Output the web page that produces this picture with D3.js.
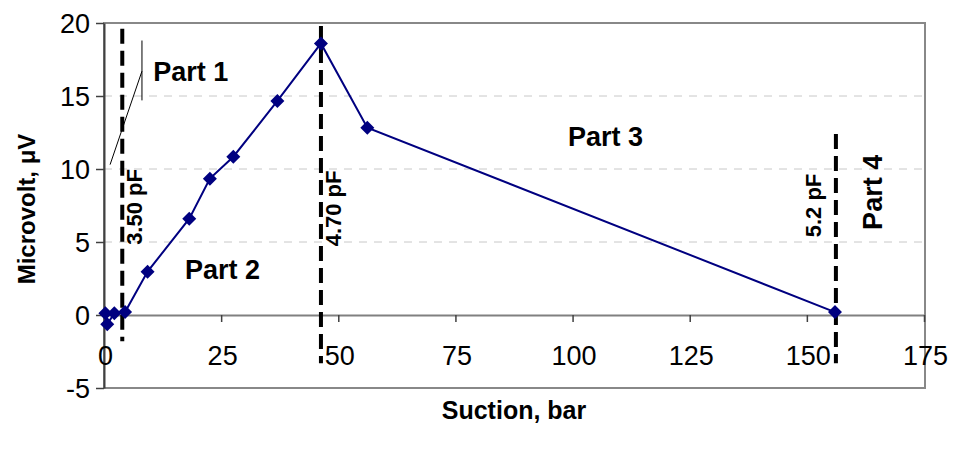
<!DOCTYPE html>
<html>
<head>
<meta charset="utf-8">
<script src="https://cdn.jsdelivr.net/npm/d3@7"></script>
<style>
  html, body { margin: 0; padding: 0; background: #fff; }
  svg { display: block; font-family: "Liberation Sans", Arial, sans-serif; }
</style>
</head>
<body>
<svg id="chart" width="953" height="450"></svg>
<script>
// Suction (bar) against signal (microvolt)
const suction   = [0.3, 0.7, 2.2, 4.5, 9.3, 18.2, 22.6, 27.6, 37.0, 46.3, 56.2, 156.0];
const microvolt = [0.12, -0.64, 0.12, 0.2, 2.97, 6.6, 9.34, 10.84, 14.66, 18.6, 12.83, 0.2];

const xTicks = [0, 25, 50, 75, 100, 125, 150, 175];
const yTicks = [-5, 0, 5, 10, 15, 20];
const gridValues = [5, 10, 15];

// Capacitance boundaries between the parts
const boundaryX     = [3.9, 46.3, 156.2];
const boundaryTop   = [19.6, 19.8, 12.4];
const boundaryBot   = [-1.8, -3.3, -3.3];
const boundaryLabel = ["3.50 pF", "4.70 pF", "5.2 pF"];
const boundaryLabelX = [8.2, 50.6, 153.0];
const boundaryLabelY = [7.4, 7.3, 7.5];

const partNames = ["Part 1", "Part 2", "Part 3", "Part 4"];
const partX     = [10.5, 17.3, 99.0, 166.0];
const partY     = [16.0, 2.45, 11.55, 8.4];
const partRot   = [false, false, false, true];

const svg = d3.select("#chart");
const plotLeft = 104, plotRight = 924, plotTop = 23, plotBottom = 388;

const x = d3.scaleLinear().domain([0, 175]).range([plotLeft, plotRight]);
const y = d3.scaleLinear().domain([-5, 20]).range([plotBottom, plotTop]);

// plot area frame
svg.append("rect")
  .attr("x", plotLeft).attr("y", plotTop)
  .attr("width", plotRight + 1 - plotLeft).attr("height", plotBottom - plotTop)
  .attr("fill", "none").attr("stroke", "#888").attr("stroke-width", 2);

// horizontal gridlines
svg.append("g").selectAll("line").data(gridValues).join("line")
  .attr("x1", plotLeft).attr("x2", plotRight)
  .attr("y1", d => y(d)).attr("y2", d => y(d))
  .attr("stroke", "#c8c8c8").attr("stroke-width", 1)
  .attr("stroke-dasharray", "8,7");

// y axis
const yAxis = svg.append("g")
  .attr("transform", `translate(${plotLeft},0)`)
  .call(d3.axisLeft(y).tickValues(yTicks).tickSize(8).tickSizeOuter(0).tickFormat(""));
yAxis.select(".domain").attr("stroke", "#404040").attr("stroke-width", 2);
yAxis.selectAll(".tick line").attr("stroke", "#404040").attr("stroke-width", 1.5);

svg.append("g").selectAll("text").data(yTicks).join("text")
  .attr("x", 90)
  .attr("y", d => y(d) + 9.5)
  .attr("text-anchor", "end")
  .attr("font-size", 27)
  .attr("fill", "#000")
  .text(d => d);

// x axis crossing at zero
const xAxis = svg.append("g")
  .attr("transform", `translate(0,${y(0)})`)
  .call(d3.axisBottom(x).tickValues(xTicks).tickSize(7).tickSizeOuter(0).tickFormat(""));
xAxis.select(".domain").attr("stroke", "#808080").attr("stroke-width", 2);
xAxis.selectAll(".tick line").attr("stroke", "#404040").attr("stroke-width", 1.5);

svg.append("g").selectAll("text").data(xTicks).join("text")
  .attr("x", d => x(d) + 1.5)
  .attr("y", 365)
  .attr("text-anchor", "middle")
  .attr("font-size", 27)
  .attr("fill", "#000")
  .text(d => d);

// axis titles
svg.append("text")
  .attr("x", 514).attr("y", 419)
  .attr("text-anchor", "middle")
  .attr("font-size", 25).attr("font-weight", "bold")
  .text("Suction, bar");

svg.append("text")
  .attr("transform", "translate(35,209) rotate(-90)")
  .attr("text-anchor", "middle")
  .attr("font-size", 24).attr("font-weight", "bold")
  .text("Microvolt, μV");

// boundary lines
svg.append("g").selectAll("line").data(boundaryX).join("line")
  .attr("x1", d => x(d)).attr("x2", d => x(d))
  .attr("y1", (d, i) => y(boundaryTop[i]))
  .attr("y2", (d, i) => y(boundaryBot[i]))
  .attr("stroke", "#000").attr("stroke-width", 4)
  .attr("stroke-dasharray", "15,7");

svg.append("g").selectAll("text").data(boundaryLabel).join("text")
  .attr("transform", (d, i) => `translate(${x(boundaryLabelX[i])},${y(boundaryLabelY[i])}) rotate(-90)`)
  .attr("text-anchor", "middle")
  .attr("font-size", 22).attr("font-weight", "bold")
  .text(d => d);

// Part 1 callout
const callout = [[1.3, 10.3], [8.1, 16.7]];
svg.append("path")
  .attr("d", d3.line().x(d => x(d[0])).y(d => y(d[1]))(callout))
  .attr("fill", "none").attr("stroke", "#000").attr("stroke-width", 1);
svg.append("line")
  .attr("x1", x(8.1)).attr("x2", x(8.1))
  .attr("y1", y(18.8)).attr("y2", y(14.7))
  .attr("stroke", "#000").attr("stroke-width", 1);

// part labels
svg.append("g").selectAll("text").data(partNames).join("text")
  .attr("transform", (d, i) => partRot[i]
    ? `translate(${x(partX[i])},${y(partY[i])}) rotate(-90)`
    : `translate(${x(partX[i])},${y(partY[i])})`)
  .attr("text-anchor", (d, i) => partRot[i] ? "middle" : "start")
  .attr("font-size", 27).attr("font-weight", "bold")
  .text(d => d);

// data series
const pts = suction.map((s, i) => [s, microvolt[i]]);
svg.append("path")
  .attr("d", d3.line().x(d => x(d[0])).y(d => y(d[1]))(pts))
  .attr("fill", "none").attr("stroke", "#000080").attr("stroke-width", 2);

svg.append("g").selectAll("path").data(pts).join("path")
  .attr("transform", d => `translate(${x(d[0])},${y(d[1])})`)
  .attr("d", "M0,-7L7,0L0,7L-7,0Z")
  .attr("fill", "#000080");
</script>
</body>
</html>
